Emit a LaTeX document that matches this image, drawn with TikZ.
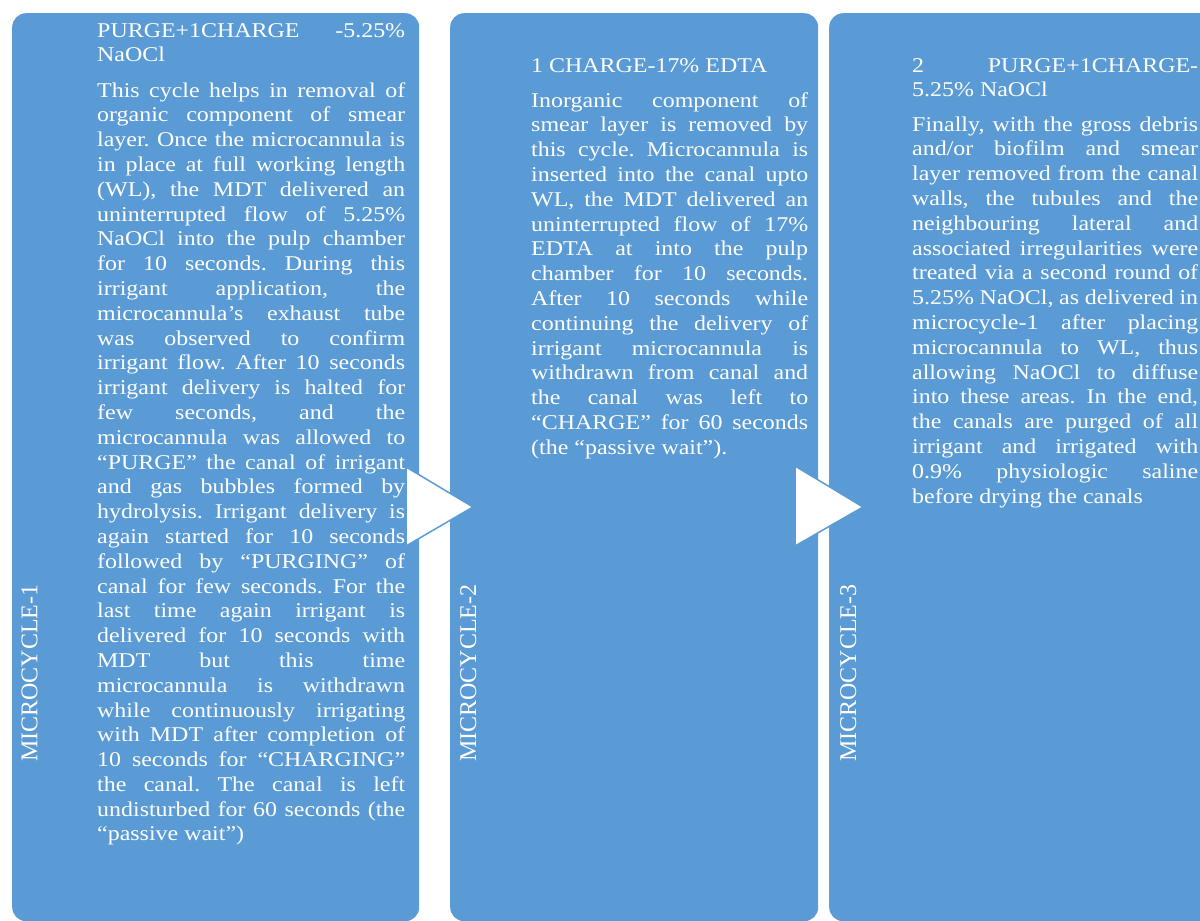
\documentclass[tikz,border=0pt]{standalone}
\usepackage{fontspec}
\setmainfont{Liberation Serif}[FakeStretch=1.14]
\newfontfamily\sidefont{Liberation Serif}
\usetikzlibrary{positioning}
\definecolor{Panel}{HTML}{5B9BD5}
\definecolor{White}{HTML}{FFFFFF}
\frenchspacing
\hyphenpenalty=10000
\tolerance=9999
\tikzset{
    panelbox/.style={rectangle, rounded corners=14pt, fill=Panel, draw=none, anchor=north west, minimum height=908pt},
    cycletext/.style={anchor=base west, inner sep=0pt, text=White, align=justify, font=\fontsize{21}{24.8}\selectfont},
    sidelabel/.style={rotate=90, anchor=base west, inner sep=0pt, text=White, font=\sidefont\fontsize{24}{28}\selectfont},
    flowtip/.style={fill=White, draw=Panel, line width=1.5pt, line join=miter},
}
\begin{document}
\begin{tikzpicture}[x=1pt, y=-1pt]
\useasboundingbox (0,0) rectangle (1200,921);

% Pannelli
\node[panelbox, minimum width=407pt] (cycA) at (12,13) {};
\node[panelbox, minimum width=368pt] (cycB) at (450,13) {};
\node[panelbox, minimum width=400pt] (cycC) at (829,13) {};

% Frecce
\draw[flowtip] (406,467) -- (473,507) -- (406,546) -- cycle;
\draw[flowtip] (795,466) -- (863,507) -- (795,546) -- cycle;

% Microcycle-1
\node[sidelabel] (sideA) at (37.3,762) {MICROCYCLE-1};
\node[cycletext, text width=308pt] (headA) at (97,37) {PURGE+1CHARGE -5.25\%\linebreak NaOCl};
\node[cycletext, text width=308pt] (bodyA) at (97,97) {This cycle helps in removal of\linebreak
organic component of smear\linebreak
layer. Once the microcannula is\linebreak
in place at full working length\linebreak
(WL), the MDT delivered an\linebreak
uninterrupted flow of 5.25\%\linebreak
NaOCl into the pulp chamber\linebreak
for 10 seconds. During this\linebreak
irrigant application, the\linebreak
microcannula’s exhaust tube\linebreak
was observed to confirm\linebreak
irrigant flow. After 10 seconds\linebreak
irrigant delivery is halted for\linebreak
few seconds, and the\linebreak
microcannula was allowed to\linebreak
“PURGE” the canal of irrigant\linebreak
and gas bubbles formed by\linebreak
hydrolysis. Irrigant delivery is\linebreak
again started for 10 seconds\linebreak
followed by “PURGING” of\linebreak
canal for few seconds. For the\linebreak
last time again irrigant is\linebreak
delivered for 10 seconds with\linebreak
MDT but this time\linebreak
microcannula is withdrawn\linebreak
while continuously irrigating\linebreak
with MDT after completion of\linebreak
10 seconds for “CHARGING”\linebreak
the canal. The canal is left\linebreak
undisturbed for 60 seconds (the\linebreak
“passive wait”)};

% Microcycle-2
\node[sidelabel] (sideB) at (476,762) {MICROCYCLE-2};
\node[cycletext, text width=277pt] (headB) at (531,72) {1 CHARGE-17\% EDTA};
\node[cycletext, text width=277pt] (bodyB) at (531,107) {Inorganic component of\linebreak
smear layer is removed by\linebreak
this cycle. Microcannula is\linebreak
inserted into the canal upto\linebreak
WL, the MDT delivered an\linebreak
uninterrupted flow of 17\%\linebreak
EDTA at into the pulp\linebreak
chamber for 10 seconds.\linebreak
After 10 seconds while\linebreak
continuing the delivery of\linebreak
irrigant microcannula is\linebreak
withdrawn from canal and\linebreak
the canal was left to\linebreak
“CHARGE” for 60 seconds\linebreak
(the “passive wait”).};

% Microcycle-3
\node[sidelabel] (sideC) at (856,762) {MICROCYCLE-3};
\node[cycletext, text width=286pt] (headC) at (912,72) {2 PURGE+1CHARGE-\linebreak 5.25\% NaOCl};
\node[cycletext, text width=286pt] (bodyC) at (912,131) {Finally, with the gross debris\linebreak
and/or biofilm and smear\linebreak
layer removed from the canal\linebreak
walls, the tubules and the\linebreak
neighbouring lateral and\linebreak
associated irregularities were\linebreak
treated via a second round of\linebreak
5.25\% NaOCl, as delivered in\linebreak
microcycle-1 after placing\linebreak
microcannula to WL, thus\linebreak
allowing NaOCl to diffuse\linebreak
into these areas. In the end,\linebreak
the canals are purged of all\linebreak
irrigant and irrigated with\linebreak
0.9\% physiologic saline\linebreak
before drying the canals};
\end{tikzpicture}
\end{document}
